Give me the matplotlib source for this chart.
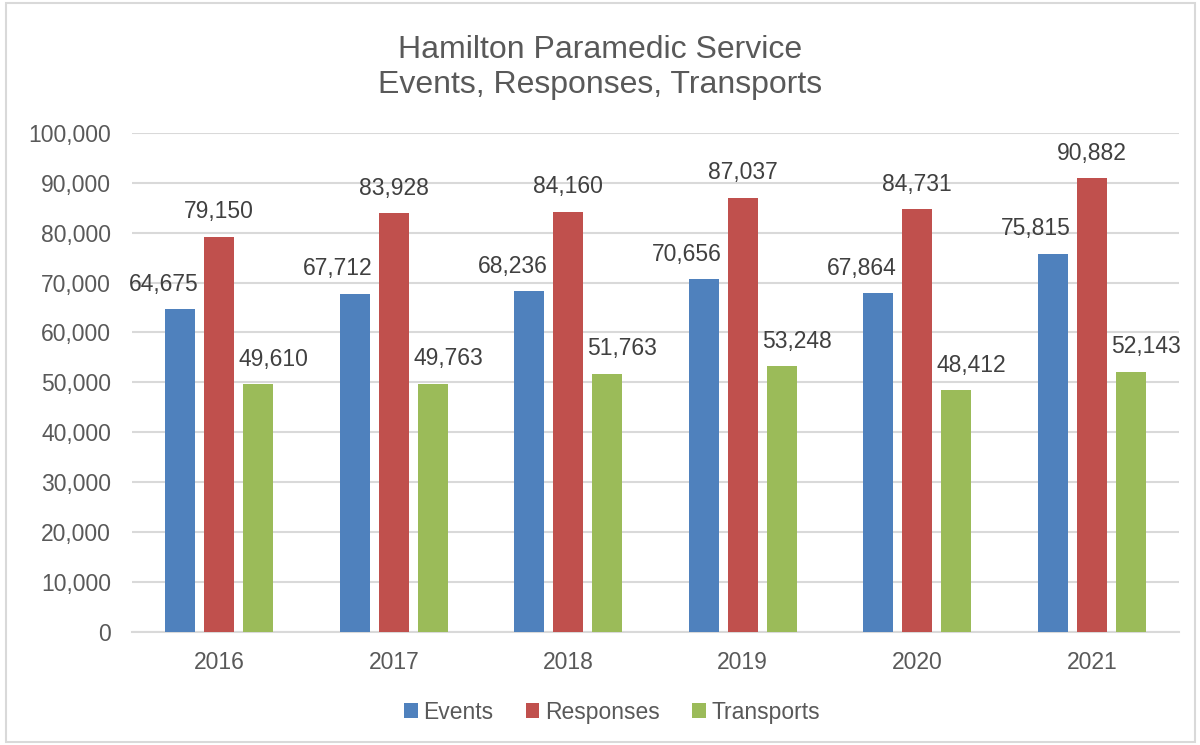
import numpy as np
import matplotlib.pyplot as plt
from matplotlib.patches import Rectangle
from matplotlib.ticker import FuncFormatter

plt.rcParams['font.family'] = ['Liberation Sans', 'DejaVu Sans']

years = ['2016', '2017', '2018', '2019', '2020', '2021']
events = [64675, 67712, 68236, 70656, 67864, 75815]
responses = [79150, 83928, 84160, 87037, 84731, 90882]
transports = [49610, 49763, 51763, 53248, 48412, 52143]

series = [('Events', events, '#4F81BD'),
          ('Responses', responses, '#C0504D'),
          ('Transports', transports, '#9BBB59')]
# sideways nudge of the value labels (points), like excel did it
nudge = [-12, 0, 11]

fig = plt.figure(figsize=(12, 7.45), dpi=100)
ax = fig.add_axes([0.11, 0.1517, 0.8725, 0.67])

x = np.arange(len(years))
w = 0.172
step = 0.2235
for i, (name, vals, col) in enumerate(series):
    pos = x + (i - 1) * step
    bars = ax.bar(pos, vals, w, color=col, label=name, zorder=3)
    for b, v in zip(bars, vals):
        ax.annotate(f'{v:,}', (b.get_x() + b.get_width() / 2, v),
                    xytext=(nudge[i], 18), textcoords='offset points',
                    ha='center', va='center', fontsize=16.5, color='#404040')

ax.set_xlim(-0.5, len(years) - 0.5)
ax.set_ylim(0, 100000)
ax.set_yticks(np.arange(0, 100001, 10000))
ax.yaxis.set_major_formatter(FuncFormatter(lambda v, p: f'{int(v):,}'))
ax.set_xticks(x)
ax.set_xticklabels(years)
ax.tick_params(axis='both', length=0, labelsize=16.5, labelcolor='#595959')
ax.tick_params(axis='x', pad=14)
ax.tick_params(axis='y', pad=15)
ax.grid(axis='y', color='#D9D9D9', linewidth=1.5, zorder=0)
for s in ['top', 'right', 'left']:
    ax.spines[s].set_visible(False)
ax.spines['bottom'].set_color('#D9D9D9')
ax.spines['bottom'].set_linewidth(1.5)

fig.text(0.5, 0.9095, 'Hamilton Paramedic Service\nEvents, Responses, Transports',
         ha='center', va='center', fontsize=23, color='#595959', linespacing=1.25)

fig.legend(loc='center', bbox_to_anchor=(0.51, 0.044), ncol=3, frameon=False,
           fontsize=16.5, handlelength=0.6, handleheight=0.6, handletextpad=0.25,
           columnspacing=1.4, labelcolor='#595959')

fig.patches.append(Rectangle((0.005, 0.004), 0.991, 0.992, transform=fig.transFigure,
                             fill=False, edgecolor='#D9D9D9', linewidth=1.5))

fig.savefig('out.png', dpi=100)
